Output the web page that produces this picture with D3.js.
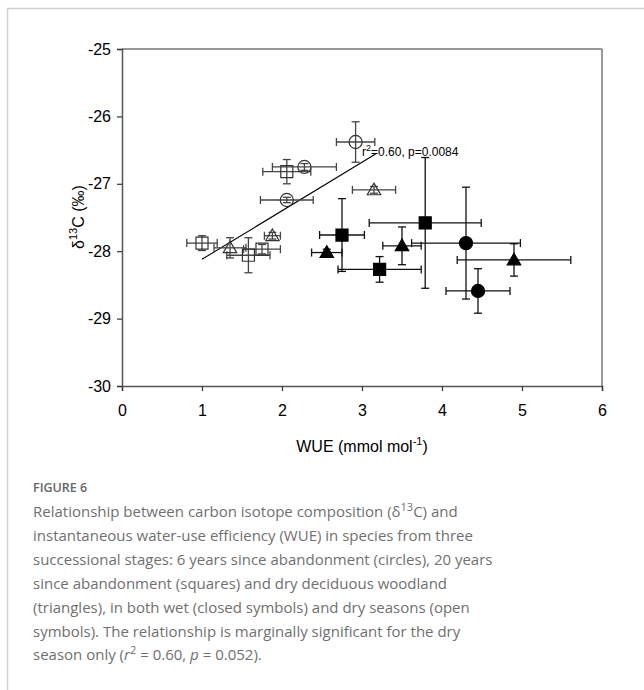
<!DOCTYPE html>
<html>
<head>
<meta charset="utf-8">
<script src="https://cdn.jsdelivr.net/npm/d3@7"></script>
<style>
  html, body { margin: 0; padding: 0; background: #fff; overflow: hidden; }
  svg { display: block; }
</style>
</head>
<body>
<script>
// ---- Data ----
// group: 0 = 6 years (circles), 1 = 20 years (squares), 2 = dry deciduous woodland (triangles)
// season: "dry" = open symbols, "wet" = closed symbols
const pointGroup  = [0, 0, 0, 1, 1, 1, 1, 2, 2, 2,   0, 0, 1, 1, 1, 2, 2, 2];
const pointSeason = ["dry","dry","dry","dry","dry","dry","dry","dry","dry","dry",
                     "wet","wet","wet","wet","wet","wet","wet","wet"];
const wue      = [2.92, 2.28, 2.06, 2.06, 1.00, 1.58, 1.75, 1.35, 1.88, 3.15,   4.45, 4.30, 2.75, 3.22, 3.79, 2.56, 3.50, 4.90];
const wueErr   = [0.24, 0.40, 0.33, 0.30, 0.19, 0.27, 0.23, 0.20, 0.10, 0.27,   0.40, 0.68, 0.28, 0.52, 0.70, 0.19, 0.24, 0.71];
const d13c     = [-26.38, -26.75, -27.24, -26.82, -27.88, -28.06, -27.97, -27.95, -27.77, -27.09,
                  -28.59, -27.88, -27.76, -28.27, -27.58, -28.02, -27.92, -28.13];
const d13cErr  = [0.30, 0.05, 0.04, 0.18, 0.11, 0.26, 0.07, 0.15, 0.05, 0.05,   0.33, 0.83, 0.54, 0.19, 0.97, 0.05, 0.28, 0.24];

// Dry-season regression line
const regSlope = 0.72;
const regIntercept = -28.84;
const regRange = [1.0, 3.17];
const regLabel = ["r", "2", "=0.60, p=0.0084"];

const xTicks = [0, 1, 2, 3, 4, 5, 6];
const yTicks = [-30, -29, -28, -27, -26, -25];

const captionTitle = "FIGURE 6";
const captionLines = [
  "Relationship between carbon isotope composition (δ|13|C) and",
  "instantaneous water-use efficiency (WUE) in species from three",
  "successional stages: 6 years since abandonment (circles), 20 years",
  "since abandonment (squares) and dry deciduous woodland",
  "(triangles), in both wet (closed symbols) and dry seasons (open",
  "symbols). The relationship is marginally significant for the dry",
  "season only (#r#|2| = 0.60, #p# = 0.052)."
];

// ---- Drawing ----
const W = 644, H = 690;
const svg = d3.select("body").append("svg").attr("width", W).attr("height", H);

// card border (left + top visible)
svg.append("path")
  .attr("d", `M7.5,${H + 5} L7.5,8.5 L${W + 5},8.5`)
  .attr("fill", "none").attr("stroke", "#d0d0d0").attr("stroke-width", 1.5);

const plot = { left: 122, right: 602, top: 49, bottom: 386 };
const x = d3.scaleLinear().domain([0, 6]).range([plot.left, plot.right]);
const y = d3.scaleLinear().domain([-30, -25]).range([plot.bottom, plot.top]);

const axisFont = "'Liberation Sans', Arial, sans-serif";
const axisColor = "#555";

// frame top & right
svg.append("line").attr("x1", plot.left).attr("x2", plot.right).attr("y1", plot.top).attr("y2", plot.top)
  .attr("stroke", "#333").attr("stroke-width", 1.2);
svg.append("line").attr("x1", plot.right).attr("x2", plot.right).attr("y1", plot.top).attr("y2", plot.bottom)
  .attr("stroke", "#777").attr("stroke-width", 1.5);

// axes
const xAxis = svg.append("g").attr("transform", `translate(0,${plot.bottom})`)
  .call(d3.axisBottom(x).tickValues(xTicks).tickSize(5).tickPadding(14).tickFormat(d3.format("d")));
const yAxis = svg.append("g").attr("transform", `translate(${plot.left},0)`)
  .call(d3.axisLeft(y).tickValues(yTicks).tickSize(5).tickPadding(6).tickFormat(d => d3.format("d")(d).replace("−", "-")));
[xAxis, yAxis].forEach(g => {
  g.select(".domain").attr("stroke", axisColor).attr("stroke-width", 1.5);
  g.selectAll(".tick line").attr("stroke", "#333").attr("stroke-width", 1.2);
  g.selectAll(".tick text").attr("fill", "#000").style("font-family", axisFont).style("font-size", "16px");
});

// axis titles
const xt = svg.append("text").attr("x", 362).attr("y", 452).attr("text-anchor", "middle")
  .style("font-family", axisFont).style("font-size", "16px").attr("fill", "#000");
xt.append("tspan").text("WUE (mmol mol");
xt.append("tspan").attr("dy", -7).style("font-size", "11px").text("-1");
xt.append("tspan").attr("dy", 7).text(")");

const yt = svg.append("text").attr("transform", `translate(84,217) rotate(-90)`).attr("text-anchor", "middle")
  .style("font-family", axisFont).style("font-size", "16px").attr("fill", "#000");
yt.append("tspan").text("δ");
yt.append("tspan").attr("dy", -7).style("font-size", "11px").text("13");
yt.append("tspan").attr("dy", 7).text("C (‰)");

// regression line
svg.append("line")
  .attr("x1", x(regRange[0])).attr("y1", y(regIntercept + regSlope * regRange[0]))
  .attr("x2", x(regRange[1])).attr("y2", y(regIntercept + regSlope * regRange[1]))
  .attr("stroke", "#000").attr("stroke-width", 1.1);

const rl = svg.append("text").attr("x", 362).attr("y", 156)
  .style("font-family", axisFont).style("font-size", "12px").attr("fill", "#000");
rl.append("tspan").text(regLabel[0]);
rl.append("tspan").attr("dy", -5).style("font-size", "9px").text(regLabel[1]);
rl.append("tspan").attr("dy", 5).text(regLabel[2]);

// points
const pts = wue.map((v, i) => ({
  g: pointGroup[i], s: pointSeason[i], x: v, xe: wueErr[i], y: d13c[i], ye: d13cErr[i]
}));

const cap = 4;
const eb = svg.append("g");
pts.forEach(p => {
  const col = p.s === "wet" ? "#111" : "#444";
  const cx = x(p.x), cy = y(p.y);
  const x0 = x(p.x - p.xe), x1 = x(p.x + p.xe);
  const y0 = y(p.y - p.ye), y1 = y(p.y + p.ye);
  const gg = eb.append("g").attr("stroke", col).attr("stroke-width", 1.3).attr("fill", "none");
  gg.append("line").attr("x1", x0).attr("x2", x1).attr("y1", cy).attr("y2", cy);
  gg.append("line").attr("x1", x0).attr("x2", x0).attr("y1", cy - cap).attr("y2", cy + cap);
  gg.append("line").attr("x1", x1).attr("x2", x1).attr("y1", cy - cap).attr("y2", cy + cap);
  gg.append("line").attr("x1", cx).attr("x2", cx).attr("y1", y0).attr("y2", y1);
  gg.append("line").attr("x1", cx - cap).attr("x2", cx + cap).attr("y1", y0).attr("y2", y0);
  gg.append("line").attr("x1", cx - cap).attr("x2", cx + cap).attr("y1", y1).attr("y2", y1);
});

const symTypes = [d3.symbolCircle, d3.symbolSquare, d3.symbolTriangle];
const symSizes = [135, 145, 78];
svg.append("g").selectAll("path").data(pts).join("path")
  .attr("transform", d => `translate(${x(d.x)},${y(d.y) + (d.g === 2 ? 1 : 0)})`)
  .attr("d", d => d3.symbol().type(symTypes[d.g]).size(symSizes[d.g])())
  .attr("fill", d => d.s === "wet" ? "#000" : "none")
  .attr("stroke", d => d.s === "wet" ? "#000" : "#333")
  .attr("stroke-width", 1.2);

// caption
const capFont = "'Open Sans', 'Noto Sans', sans-serif";
svg.append("text").attr("x", 33).attr("y", 492).text(captionTitle)
  .style("font-family", capFont).style("font-size", "12.5px").style("font-weight", 600).attr("fill", "#666");

captionLines.forEach((line, i) => {
  const t = svg.append("text").attr("x", 33).attr("y", 517 + i * 23.9)
    .style("font-family", capFont).style("font-size", "15px").attr("fill", "#707070");
  // tokens: |...| superscript, #...# italic
  const parts = line.split(/(\|[^|]+\||#[^#]+#)/).filter(s => s.length);
  let sup = false;
  parts.forEach(part => {
    if (part.startsWith("|")) {
      t.append("tspan").attr("dy", -6).style("font-size", "11px").text(part.slice(1, -1));
      sup = true;
    } else if (part.startsWith("#")) {
      const ts = t.append("tspan").style("font-style", "italic").text(part.slice(1, -1));
      if (sup) { ts.attr("dy", 6); sup = false; }
    } else {
      const ts = t.append("tspan").text(part);
      if (sup) { ts.attr("dy", 6); sup = false; }
    }
  });
});
</script>
</body>
</html>
